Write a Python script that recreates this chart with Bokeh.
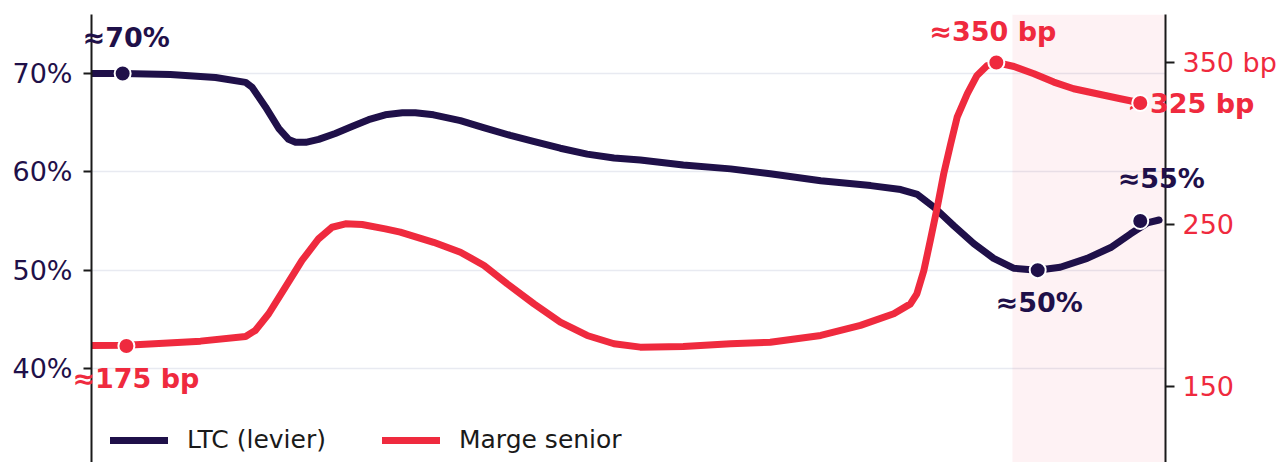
from bokeh.plotting import figure
from bokeh.models import (Range1d, LinearAxis, FixedTicker, BoxAnnotation,
                          Legend, LegendItem, ColumnDataSource)
from bokeh.core.properties import value
from bokeh.embed import file_html
from bokeh.resources import INLINE

# ---------------- data ----------------
ltc_x = [2005.00, 2005.58, 2006.47, 2007.31, 2007.87, 2007.99, 2008.24, 2008.49,
         2008.67, 2008.80, 2008.99, 2009.23, 2009.54, 2009.85, 2010.16, 2010.47,
         2010.79, 2011.03, 2011.37, 2011.87, 2012.30, 2012.80, 2013.23, 2013.73,
         2014.23, 2014.73, 2015.22, 2016.02, 2016.90, 2017.64, 2018.58, 2019.51,
         2020.07, 2020.38, 2020.69, 2021.06, 2021.43, 2021.80, 2022.17, 2022.61,
         2023.04, 2023.54, 2023.98, 2024.35, 2024.66, 2024.88]
ltc_y = [70.0, 70.0, 69.9, 69.6, 69.1, 68.6, 66.6, 64.4,
         63.3, 63.0, 63.0, 63.3, 63.9, 64.6, 65.3, 65.8,
         66.0, 66.0, 65.8, 65.2, 64.5, 63.7, 63.1, 62.4,
         61.8, 61.4, 61.2, 60.7, 60.3, 59.8, 59.1, 58.6,
         58.2, 57.7, 56.4, 54.5, 52.7, 51.2, 50.2, 50.0,
         50.3, 51.2, 52.3, 53.7, 54.8, 55.1]

spread_x = [2005.00, 2005.65, 2007.03, 2007.87, 2008.05, 2008.30, 2008.61, 2008.92,
            2009.23, 2009.48, 2009.73, 2010.04, 2010.47, 2010.75, 2011.37, 2011.87,
            2012.31, 2012.74, 2013.24, 2013.73, 2014.23, 2014.73, 2015.22, 2016.02,
            2016.90, 2017.64, 2018.58, 2019.32, 2019.94, 2020.25, 2020.37, 2020.50,
            2020.62, 2020.75, 2020.87, 2021.00, 2021.12, 2021.31, 2021.49, 2021.68,
            2021.87, 2022.18, 2022.55, 2022.92, 2023.29, 2023.79, 2024.16, 2024.41]
spread_y = [175.3, 175.5, 178.0, 180.9, 184.6, 194.9, 211.3, 227.8,
            241.2, 248.3, 250.4, 250.0, 247.3, 245.3, 239.0, 232.9,
            224.7, 213.4, 201.0, 189.7, 181.5, 176.4, 174.3, 174.7,
            176.4, 177.3, 181.5, 187.7, 194.9, 201.0, 207.2, 221.6,
            240.1, 260.7, 281.3, 299.8, 316.2, 330.7, 342.0, 348.1,
            349.8, 347.5, 343.0, 337.9, 333.8, 330.2, 327.6, 325.9]

ltc_mark_x = [2005.58, 2022.62, 2024.53]
ltc_mark_y = [70, 50, 55]
ltc_mark_txt = ["≈70%", "≈50%", "≈55%"]

spread_mark_x = [2005.65, 2021.85, 2024.53]
spread_mark_y = [175, 350, 325]
spread_mark_txt = ["≈175 bp", "≈350 bp", "≈325 bp"]

left_ticks = [40, 50, 60, 70]
left_labels = ["40%", "50%", "60%", "70%"]
right_ticks = [150, 250, 350]
right_labels = ["150", "250", "350 bp"]

band_start = 2022.15
series_names = ["LTC (levier)", "Marge senior"]

# ---------------- styling ----------------
NAVY = "#1f1049"
RED = "#ef2a3e"
FONT = "DejaVu Sans"

p = figure(width=1283, height=462, output_backend="svg", toolbar_location=None,
           x_axis_location=None,
           x_range=Range1d(2005, 2025), y_range=Range1d(30.44, 76.0),
           min_border_left=91, min_border_right=118, min_border_top=14,
           min_border_bottom=0)
p.outline_line_color = None
p.background_fill_color = "white"
p.border_fill_color = "white"
p.extra_y_ranges = {"bp": Range1d(103.1, 379.6)}

# shaded recent period
p.add_layout(BoxAnnotation(left=band_start, fill_color=RED, fill_alpha=0.06,
                           line_color=None, level="underlay"))

# left axis
ya = p.yaxis[0]
ya.ticker = FixedTicker(ticks=left_ticks)
ya.major_label_overrides = {float(t): l for t, l in zip(left_ticks, left_labels)}
ya.major_label_text_font = FONT
ya.major_label_text_font_size = "27px"
ya.major_label_text_color = NAVY
ya.axis_line_color = "#1a1a1a"
ya.axis_line_width = 2
ya.major_tick_line_color = "#1a1a1a"
ya.major_tick_line_width = 2
ya.major_tick_out = 8
ya.major_tick_in = 0
ya.minor_tick_line_color = None
ya.major_label_standoff = 11

p.ygrid.ticker = FixedTicker(ticks=left_ticks)
p.ygrid.grid_line_color = "#e8eaf1"
p.ygrid.grid_line_width = 1.5
p.xgrid.visible = False

# right axis
ra = LinearAxis(y_range_name="bp", ticker=FixedTicker(ticks=right_ticks))
ra.major_label_overrides = {float(t): l for t, l in zip(right_ticks, right_labels)}
ra.major_label_text_font = FONT
ra.major_label_text_font_size = "27px"
ra.major_label_text_color = RED
ra.axis_line_color = "#1a1a1a"
ra.axis_line_width = 2
ra.major_tick_line_color = "#1a1a1a"
ra.major_tick_line_width = 2
ra.major_tick_out = 9
ra.major_tick_in = 0
ra.minor_tick_line_color = None
ra.major_label_standoff = 8
p.add_layout(ra, "right")

# lines
r_ltc = p.line(ltc_x, ltc_y, line_color=NAVY, line_width=7, line_join="round",
               line_cap="round")
r_spr = p.line(spread_x, spread_y, line_color=RED, line_width=7, line_join="round",
               line_cap="round", y_range_name="bp")

# value labels (screen offsets: +y is downward for glyphs)
ltc_lab = ColumnDataSource(dict(x=ltc_mark_x, y=ltc_mark_y, t=ltc_mark_txt,
                                dx=[3.5, 1.5, 21], dy=[-36, 32, -42]))
p.text(x="x", y="y", text="t", x_offset="dx", y_offset="dy", source=ltc_lab,
       text_align="center", text_baseline="middle", text_font=value(FONT),
       text_font_style="bold", text_font_size="27px", text_color=NAVY,
       level="overlay")
spr_lab = ColumnDataSource(dict(x=spread_mark_x, y=spread_mark_y, t=spread_mark_txt,
                                dx=[9.5, -3.5, -13], dy=[32, -31, 1],
                                al=["center", "center", "left"]))
p.text(x="x", y="y", text="t", x_offset="dx", y_offset="dy", source=spr_lab,
       text_align="al", text_baseline="middle", text_font=value(FONT),
       text_font_style="bold", text_font_size="27px", text_color=RED,
       y_range_name="bp", level="overlay")

# markers on top
p.scatter(ltc_mark_x, ltc_mark_y, size=16, fill_color=NAVY, line_color="white",
          line_width=2, level="overlay")
p.scatter(spread_mark_x, spread_mark_y, size=16, fill_color=RED, line_color="white",
          line_width=2, y_range_name="bp", level="overlay")

legend = Legend(items=[LegendItem(label=series_names[0], renderers=[r_ltc]),
                       LegendItem(label=series_names[1], renderers=[r_spr])],
                location=(19, 8), orientation="horizontal",
                border_line_color=None, background_fill_alpha=0,
                label_text_font=FONT, label_text_font_size="25px",
                label_text_color="#1a1a1a",
                glyph_width=58, label_standoff=19, spacing=56,
                padding=0, margin=0)
p.add_layout(legend)

open("out.html", "w").write(file_html(p, INLINE))
